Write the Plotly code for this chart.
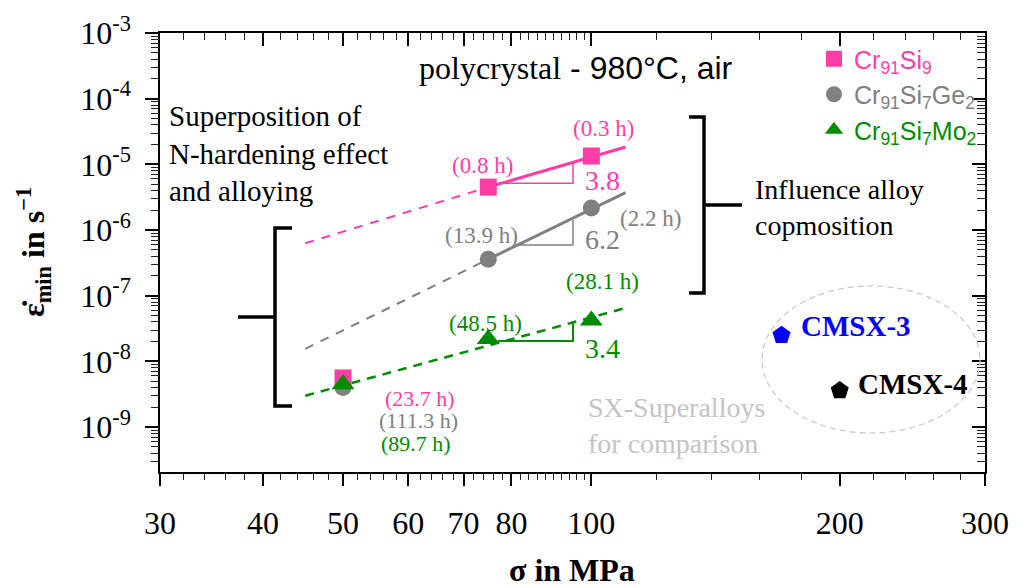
import plotly.graph_objects as go
import math

# ---------------- data ----------------
stress = [50, 75, 100]
rate_cr91si9 = [5.6e-9, 4.5e-6, 1.34e-5]
rate_cr91si7ge2 = [4.0e-9, 3.6e-7, 2.16e-6]
rate_cr91si7mo2 = [4.5e-9, 2.2e-8, 4.2e-8]

time_cr91si9 = ["(23.7 h)", "(0.8 h)", "(0.3 h)"]
time_cr91si7ge2 = ["(111.3 h)", "(13.9 h)", "(2.2 h)"]
time_cr91si7mo2 = ["(89.7 h)", "(48.5 h)", "(28.1 h)"]

# fitted Norton lines (dashed extrapolation / solid range)
fit_si9_dash_x = [45, 75]
fit_si9_dash_y = [6.3e-7, 4.5e-6]
fit_si9_solid_x = [75, 110]
fit_si9_solid_y = [4.5e-6, 1.84e-5]

fit_ge_dash_x = [45, 75]
fit_ge_dash_y = [1.55e-8, 3.6e-7]
fit_ge_solid_x = [75, 110]
fit_ge_solid_y = [3.6e-7, 3.7e-6]

fit_mo_dash_x = [45, 110]
fit_mo_dash_y = [3.0e-9, 6.5e-8]

# slope triangles (Norton exponents)
n_values = ["3.8", "6.2", "3.4"]
tri_si9_x = [77, 95, 95]
tri_si9_y = [5.15e-6, 5.15e-6, 1.05e-5]
tri_ge_x = [81, 95, 95]
tri_ge_y = [5.9e-7, 5.9e-7, 1.42e-6]
tri_mo_x = [77, 95, 95]
tri_mo_y = [2.04e-8, 2.04e-8, 3.95e-8]

# SX superalloys for comparison
sx_names = ["CMSX-3", "CMSX-4"]
sx_stress = [170, 200]
sx_rate = [2.5e-8, 3.6e-9]

# ticks
y_major = [1e-9, 1e-8, 1e-7, 1e-6, 1e-5, 1e-4, 1e-3]
y_text = ["10<sup>-9</sup>", "10<sup>-8</sup>", "10<sup>-7</sup>", "10<sup>-6</sup>",
          "10<sup>-5</sup>", "10<sup>-4</sup>", "10<sup>-3</sup>"]
y_minor = [k * 10.0 ** e for e in range(-10, -3) for k in range(2, 10)]
x_major = [30, 40, 50, 60, 70, 80, 100, 200, 300]
x_text = ["30", "40", "50", "60", "70", "80", "100", "200", "300"]
x_minor = [32, 34, 36, 38, 42, 44, 46, 48, 52, 54, 56, 58, 62, 64, 66, 68, 72, 74, 76, 78,
           82, 84, 86, 88, 90, 92, 94, 96, 98, 120, 140, 160, 180, 220, 240, 260, 280]

# ---------------- styling ----------------
PINK = "#ff3ea5"
GREY = "#808080"
GREEN = "#008c00"
BLUE = "#0000ff"
SERIF = "Liberation Serif"
SANS = "Liberation Sans"

W, H = 1035, 588
PL, PR, PT, PB = 160, 985, 33, 472
XR = [math.log10(30), math.log10(300)]
YR = [math.log10(2.07e-10), -3]


def px(x):
    return (x - PL) / (PR - PL)


def py(y):
    return (PB - y) / (PB - PT)


fig = go.Figure()


def line(x, y, color, width, dash=None):
    fig.add_trace(go.Scatter(x=x, y=y, mode="lines", showlegend=False, hoverinfo="skip",
                             line=dict(color=color, width=width, dash=dash)))


line(fit_si9_dash_x, fit_si9_dash_y, PINK, 2, "9px,8px")
line(fit_si9_solid_x, fit_si9_solid_y, PINK, 3)
line(fit_ge_dash_x, fit_ge_dash_y, GREY, 2, "9px,8px")
line(fit_ge_solid_x, fit_ge_solid_y, GREY, 3)
line(fit_mo_dash_x, fit_mo_dash_y, GREEN, 2.5, "9px,7px")
line(tri_si9_x, tri_si9_y, PINK, 1.5)
line(tri_ge_x, tri_ge_y, GREY, 1.5)
line(tri_mo_x, tri_mo_y, GREEN, 2)

fig.add_trace(go.Scatter(x=stress, y=rate_cr91si9, mode="markers", legendgroup="a",
                         name="<span style='color:%s'>Cr<sub>91</sub>Si<sub>9</sub></span>" % PINK,
                         marker=dict(symbol="square", size=17, color=PINK)))
fig.add_trace(go.Scatter(x=stress, y=rate_cr91si7ge2, mode="markers", legendgroup="b",
                         name="<span style='color:%s'>Cr<sub>91</sub>Si<sub>7</sub>Ge<sub>2</sub></span>" % GREY,
                         marker=dict(symbol="circle", size=17, color=GREY)))
fig.add_trace(go.Scatter(x=stress, y=rate_cr91si7mo2, mode="markers", legendgroup="c",
                         name="<span style='color:%s'>Cr<sub>91</sub>Si<sub>7</sub>Mo<sub>2</sub></span>" % GREEN,
                         marker=dict(symbol="triangle-up", size=20, color=GREEN)))
fig.add_trace(go.Scatter(x=sx_stress, y=sx_rate, mode="markers", showlegend=False,
                         marker=dict(symbol="pentagon", size=19, color=[BLUE, "black"])))
# invisible traces to activate the mirrored / minor-tick overlay axes
for xa, ya in [("x2", "y2"), ("x3", "y3"), ("x4", "y4")]:
    fig.add_trace(go.Scatter(x=stress, y=rate_cr91si9, xaxis=xa, yaxis=ya, mode="markers",
                             marker=dict(opacity=0), showlegend=False, hoverinfo="skip"))

ann = []


def txt(t, x, y, color="black", size=24, family=SERIF, xanchor="center", yanchor="middle", angle=0):
    ann.append(dict(text=t, x=px(x), y=py(y), xref="paper", yref="paper", showarrow=False,
                    xanchor=xanchor, yanchor=yanchor, textangle=angle, align="left",
                    font=dict(color=color, size=size, family=family)))


# duration labels
txt(time_cr91si9[2], 603, 128, PINK, 23)
txt(time_cr91si9[1], 482, 165, PINK, 23)
txt(time_cr91si9[0], 420, 398, PINK, 22)
txt(time_cr91si7ge2[1], 481, 235, GREY, 23)
txt(time_cr91si7ge2[2], 650, 218, GREY, 23)
txt(time_cr91si7ge2[0], 418, 420, GREY, 22)
txt(time_cr91si7mo2[2], 602, 281, GREEN, 23)
txt(time_cr91si7mo2[1], 485, 323, GREEN, 23)
txt(time_cr91si7mo2[0], 416, 443, GREEN, 22)
# Norton exponents
txt(n_values[0], 602, 180, PINK, 28)
txt(n_values[1], 602, 239, GREY, 28)
txt(n_values[2], 602, 348, GREEN, 28)

# headline
txt("polycrystal<span style='font-family:%s'> - 980°C, air</span>" % SANS, 417, 68, "black", 32,
    xanchor="left")
# comments
txt("Superposition of<br>N-hardening effect<br>and alloying", 167, 154, "black", 29, xanchor="left")
txt("Influence alloy<br>copmosition", 753, 207, "black", 28, xanchor="left")
txt("SX-Superalloys<br>for comparison", 586, 425, "#c4c4c4", 28, xanchor="left")
txt("<b>" + sx_names[0] + "</b>", 799, 326, BLUE, 29, xanchor="left")
txt("<b>" + sx_names[1] + "</b>", 856, 384, "black", 29, xanchor="left")

# axis titles
txt("<b>ε\u0307<sub>min</sub> in s<sup>\u22121</sup></b>", 34, 252, "black", 32, angle=-90)
txt("<b>σ in MPa</b>", 572, 570, "black", 32)

shapes = []
bw = 3.5
shapes.append(dict(type="path", xref="paper", yref="paper",
                   path="M %f,%f L %f,%f L %f,%f L %f,%f M %f,%f L %f,%f" % (
                       px(689), py(117), px(704), py(117), px(704), py(293), px(689), py(293),
                       px(704), py(205), px(742), py(205)),
                   line=dict(color="black", width=bw)))
shapes.append(dict(type="path", xref="paper", yref="paper",
                   path="M %f,%f L %f,%f L %f,%f L %f,%f M %f,%f L %f,%f" % (
                       px(292), py(228), px(275), py(228), px(275), py(406), px(292), py(406),
                       px(275), py(317), px(238), py(317)),
                   line=dict(color="black", width=bw)))
shapes.append(dict(type="circle", xref="paper", yref="paper",
                   x0=px(762), x1=px(980), y0=py(433), y1=py(286),
                   line=dict(color="#c8c8c8", width=1.2, dash="6px,4px")))

axis_common = dict(type="log", showgrid=False, zeroline=False, linecolor="black",
                   linewidth=1.5, tickcolor="black", tickwidth=1.5)
minor_common = dict(type="log", showgrid=False, zeroline=False, showline=False,
                    tickcolor="#222222", tickwidth=1.3, showticklabels=False)

fig.update_layout(
    width=W, height=H,
    margin=dict(l=PL, r=W - PR, t=PT, b=H - PB, pad=0),
    paper_bgcolor="white", plot_bgcolor="white",
    xaxis=dict(**axis_common, showline=True, range=XR, tickvals=x_major, ticktext=x_text, ticks="outside",
               ticklen=12, tickfont=dict(family=SERIF, size=32, color="black"),
               ticklabelstandoff=10),
    yaxis=dict(**axis_common, showline=True, range=YR, tickvals=y_major, ticktext=y_text, ticks="outside",
               ticklen=13, tickfont=dict(family=SERIF, size=32, color="black"),
               ticklabelstandoff=8),
    xaxis2=dict(**axis_common, showline=True, range=XR, overlaying="x", side="top", anchor="y2",
                tickvals=x_major, ticks="inside", ticklen=13, showticklabels=False),
    yaxis2=dict(**axis_common, showline=True, range=YR, overlaying="y", side="right", anchor="x2",
                tickvals=y_major, ticks="inside", ticklen=13, showticklabels=False),
    # minor ticks: bottom/left outside
    xaxis3=dict(**minor_common, range=XR, overlaying="x", side="bottom", anchor="y3",
                tickvals=x_minor, ticks="outside", ticklen=7),
    yaxis3=dict(**minor_common, range=YR, overlaying="y", side="left", anchor="x3",
                tickvals=y_minor, ticks="outside", ticklen=8),
    # minor ticks: top/right inside
    xaxis4=dict(**minor_common, range=XR, overlaying="x", side="top", anchor="y4",
                tickvals=x_minor, ticks="inside", ticklen=7),
    yaxis4=dict(**minor_common, range=YR, overlaying="y", side="right", anchor="x4",
                tickvals=y_minor, ticks="inside", ticklen=8),
    legend=dict(x=px(814), y=py(36), xanchor="left", yanchor="top", bgcolor="rgba(0,0,0,0)",
                font=dict(family=SANS, size=25), tracegroupgap=0, itemwidth=30),
    annotations=ann,
    shapes=shapes,
)

fig.write_html("out.html")
